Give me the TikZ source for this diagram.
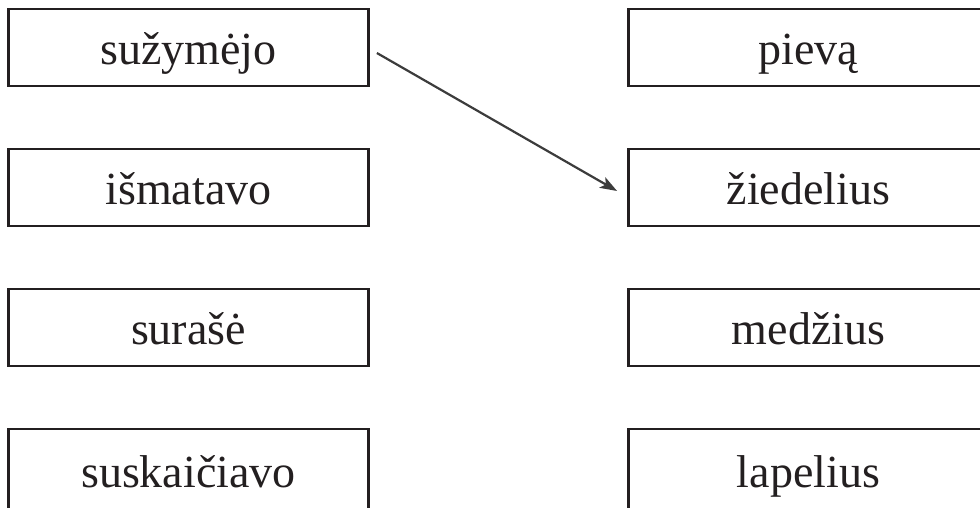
\documentclass[tikz,border=0pt]{standalone}
\usepackage{fontspec}
\setmainfont{Liberation Serif}
\usetikzlibrary{arrows.meta}
\definecolor{boxline}{HTML}{231F20}
\definecolor{arrowline}{HTML}{3C3C3C}
\tikzset{
  wordbox/.style={draw=boxline, line width=2.8pt, inner sep=0pt,
    minimum width=360pt, minimum height=77pt,
    text height=34.5pt, text depth=0pt,
    font=\fontsize{46}{50}\selectfont, text=boxline},
  linkarrow/.style={draw=arrowline, line width=2.2pt,
    -{Stealth[length=17pt,width=12pt,inset=4pt]}}
}
\begin{document}
\begin{tikzpicture}[x=1pt,y=-1pt]
\useasboundingbox (0,0) rectangle (980,507);

% Draw the left column (last row runs off the page)
\foreach \w [count=\i] in {sužymėjo,išmatavo,surašė,suskaičiavo} {
    \node[wordbox, minimum height={77+6*(\i==4)}] (l\i) at (188.5, {47.5+140*(\i-1)+3*(\i==4)}) {\w};
}

% Draw the right column
\foreach \w [count=\i] in {pievą,žiedelius,medžius,lapelius} {
    \node[wordbox, minimum height={77+6*(\i==4)}] (r\i) at (808.5, {47.5+140*(\i-1)+3*(\i==4)}) {\w};
}

% Draw the link
\draw[linkarrow] ([xshift=7pt,yshift=-5.5pt]l1.east) -- ([xshift=-10pt,yshift=-3.5pt]r2.west);

\end{tikzpicture}
\end{document}
